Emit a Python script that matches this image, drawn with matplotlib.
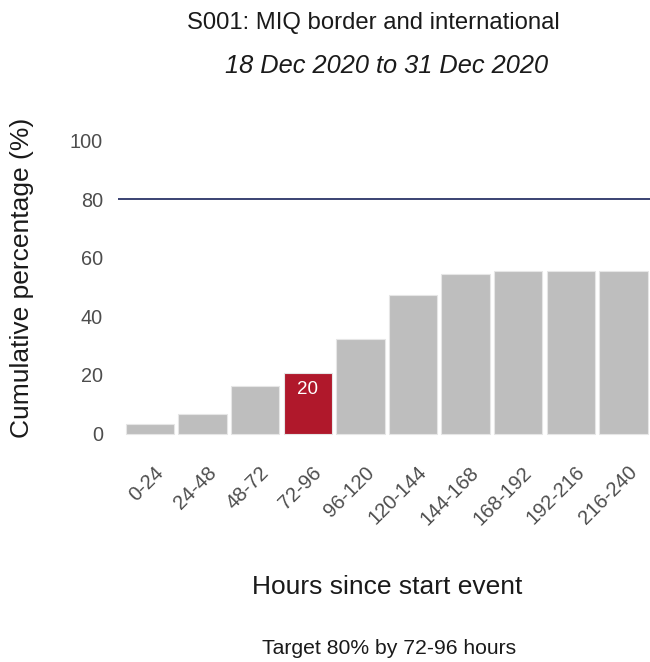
import matplotlib
matplotlib.use("Agg")
import matplotlib.pyplot as plt
from matplotlib.transforms import ScaledTranslation

categories = ["0-24", "24-48", "48-72", "72-96", "96-120", "120-144",
              "144-168", "168-192", "192-216", "216-240"]
values = [3.1, 6.6, 16.3, 20.8, 32.1, 47.3, 54.3, 55.6, 55.6, 55.6]
highlight = "72-96"
target = 80
yticks = [0, 20, 40, 60, 80, 100]

plt.rcParams['font.family'] = ['Liberation Sans', 'DejaVu Sans']

fig = plt.figure(figsize=(6.5, 6.62), dpi=100)
W, H = 650, 662
x0, x1 = 118.4, 655.0
ytop, ybot = 125.9, 448.2
ax = fig.add_axes([x0 / W, 1 - ybot / H, (x1 - x0) / W, (ybot - ytop) / H])

xs = list(range(1, len(categories) + 1))
colors = ["#B0182B" if c == highlight else "#BEBEBE" for c in categories]
ax.bar(xs, values, width=0.92, color=colors, edgecolor="#E6E6E6", linewidth=0.8, zorder=2)
ax.axhline(target, color="#2B3467", linewidth=1.3, zorder=1)

for x, c, v in zip(xs, categories, values):
    if c == highlight:
        ax.text(x, v - 5.8, f"{int(v)}", ha="center", va="center", color="white", fontsize=13.5)

ax.set_xlim(0.4, 10.6)
ax.set_ylim(-5, 105)
ax.set_yticks(yticks)
ax.set_yticklabels([str(t) for t in yticks], color="#4D4D4D", fontsize=14.3)
ax.set_xticks(xs)
ax.set_xticklabels(categories, rotation=45, ha="right", va="top", rotation_mode="anchor",
                   color="#4D4D4D", fontsize=14.5)
ax.tick_params(axis='x', length=0, pad=10.5)
ax.tick_params(axis='y', length=0, pad=11)
off = ScaledTranslation(4 / 100, 0, fig.dpi_scale_trans)
for lab in ax.get_xticklabels():
    lab.set_transform(lab.get_transform() + off)
for s in ax.spines.values():
    s.set_visible(False)

fig.text(22 / W, 1 - 278 / H, "Cumulative percentage (%)", rotation=90, ha="center", va="center",
         fontsize=19, color="#1A1A1A")

cx = (x0 + x1) / 2 / W
fig.text(373 / W, 1 - 23.5 / H, "S001: MIQ border and international", ha="center", va="center",
         fontsize=17.2, color="#1A1A1A")
fig.text(386.5 / W, 1 - 66 / H, "18 Dec 2020 to 31 Dec 2020", ha="center", va="center",
         fontsize=18.3, style="italic", color="#1A1A1A")
fig.text(cx, 1 - 587 / H, "Hours since start event", ha="center", va="center",
         fontsize=19, color="#1A1A1A")
fig.text(389 / W, 1 - 648 / H, "Target 80% by 72-96 hours", ha="center", va="center",
         fontsize=15.2, color="#1A1A1A")

fig.savefig("out.png", dpi=100, facecolor="white")
